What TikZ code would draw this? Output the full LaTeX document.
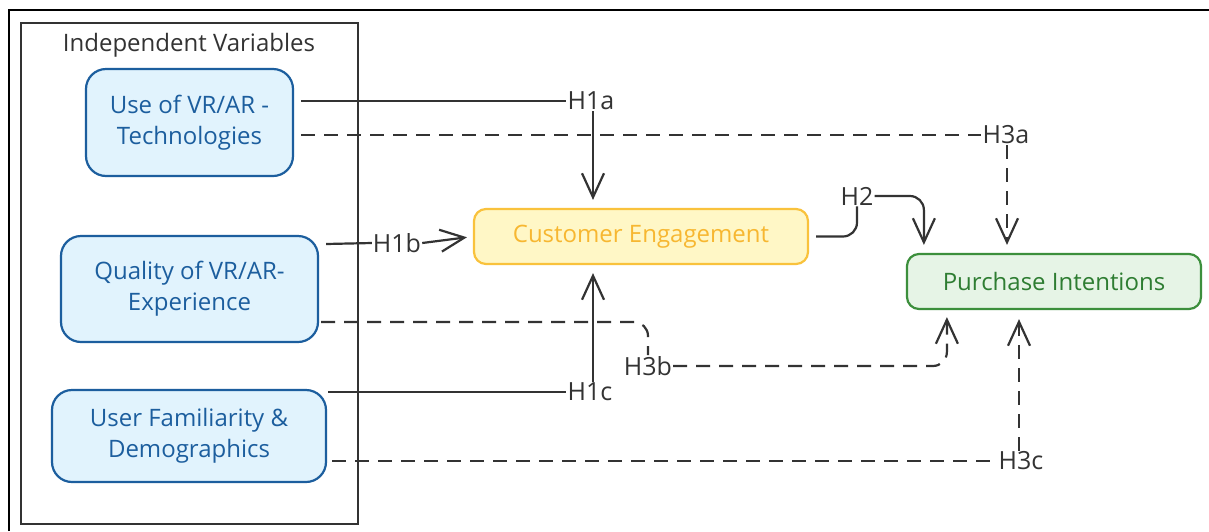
\documentclass[tikz,border=0pt]{standalone}
\usepackage{fontspec}
\setmainfont{Open Sans}
\usetikzlibrary{arrows.meta,calc}
\definecolor{bluefill}{HTML}{E1F3FD}
\definecolor{blueline}{HTML}{1C5E9E}
\definecolor{yelfill}{HTML}{FFF7C6}
\definecolor{yelline}{HTML}{F9C23C}
\definecolor{yeltext}{HTML}{F7B731}
\definecolor{grnfill}{HTML}{E6F4E6}
\definecolor{grnline}{HTML}{3C8F3C}
\definecolor{grntext}{HTML}{2E7D32}
\definecolor{linegray}{HTML}{333333}
\begin{document}
\begin{tikzpicture}[x=1pt,y=-1pt,
  font=\fontsize{24}{31}\selectfont,
  ivbox/.style={draw=blueline, fill=bluefill, text=blueline, line width=2.2pt, rounded corners=20pt, align=center, inner sep=0pt},
  ce/.style={draw=yelline, fill=yelfill, text=yeltext, line width=2.2pt, rounded corners=12pt, inner sep=0pt},
  pu/.style={draw=grnline, fill=grnfill, text=grntext, line width=2.2pt, rounded corners=12pt, inner sep=0pt},
  lbl/.style={text=linegray, inner sep=1pt, font=\fontsize{25}{30}\selectfont},
  conn/.style={draw=linegray, line width=2.2pt},
  dsh/.style={conn, dash pattern=on 14pt off 9pt},
  arr/.style={-{Straight Barb[length=24pt,width=22pt,line width=2.2pt]}},
]
\useasboundingbox (0,0) rectangle (1209,531);
\fill[white] (0,0) rectangle (1209,531);
\draw[line width=2.5pt, black] (9,531) -- (9,10) -- (1209,10);
\draw[line width=1.8pt, linegray] (21,23) rectangle (358,524);
\node[text=linegray] (title) at (189,45) {Independent Variables};

\node[ivbox, minimum width=207pt, minimum height=107pt] (u) at (189.5,122.5) {Use of VR/AR -\\Technologies};
\node[ivbox, minimum width=257pt, minimum height=106pt] (q) at (189.5,289) {Quality of VR/AR-\\Experience};
\node[ivbox, minimum width=274pt, minimum height=92pt] (f) at (189,436) {User Familiarity \&\\Demographics};
\node[ce, minimum width=334pt, minimum height=55pt] (cust) at (641,236.5) {Customer Engagement};
\node[pu, minimum width=294pt, minimum height=55pt] (pi) at (1054,281.5) {Purchase Intentions};

\node[lbl] (h1a) at (591,101) {H1a};
\node[lbl] (h3a) at (1006,135) {H3a};
\node[lbl] (h1b) at (397,243) {H1b};
\node[lbl] (h2) at (857,196) {H2};
\node[lbl] (h3b) at (648,366) {H3b};
\node[lbl] (h1c) at (590,392) {H1c};
\node[lbl] (h3c) at (1021,461) {H3c};

% H1a
\draw[conn] ($(u.east)+(7,-21.5)$) -- (h1a.west);
\draw[conn, arr, shorten >=8pt] ([xshift=2pt]h1a.south) -- ([xshift=2pt]h1a.south |- cust.north);
% H3a
\draw[dsh] ($(u.east)+(7,12.5)$) -- (h3a.west);
\draw[dsh, arr, shorten >=8pt] ([xshift=1pt]h3a.south) -- ([xshift=1pt]h3a.south |- pi.north);
% H1b
\draw[conn] ($(q.east)+(7,-45)$) -- (h1b.west);
\draw[conn, arr, shorten >=6pt] (h1b.east) -- (cust.west);
% H2
\draw[conn, rounded corners=14pt] ($(cust.east)+(7,0)$) -| (h2.south);
\draw[conn, arr, rounded corners=14pt] (h2.east) -| ($(pi.north west)+(18,-8)$);
% H3b
\draw[dsh, rounded corners=14pt] ($(q.east)+(2,33)$) -| (h3b.north);
\draw[dsh, arr, rounded corners=14pt] (h3b.east) -| ($(pi.south west)+(41,7)$);
% H1c
\draw[conn] ($(f.east)+(1,-44)$) -- (h1c.west);
\draw[conn, arr, shorten >=8pt] ([xshift=3pt]h1c.north) -- ([xshift=3pt]h1c.north |- cust.south);
% H3c
\draw[dsh] ($(f.east)+(5,25)$) -- (h3c.west);
\draw[dsh, arr, shorten >=9pt] ([xshift=-2pt]h3c.north) -- ([xshift=-2pt]h3c.north |- pi.south);
\end{tikzpicture}
\end{document}
